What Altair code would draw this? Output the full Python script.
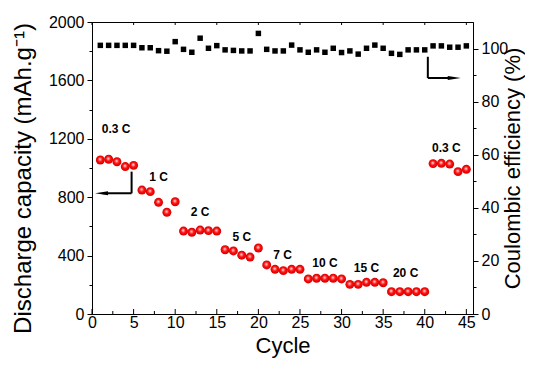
import altair as alt
import pandas as pd

# ---------------- data ----------------
cycles = list(range(1, 46))
capacity = [1055, 1060, 1043, 1010, 1018,
            849, 838, 765, 697, 769,
            568, 560, 575, 571, 568,
            440, 432, 403, 390, 452,
            336, 306, 297, 306, 306,
            240, 245, 245, 245, 240,
            203, 203, 217, 217, 214,
            153, 153, 153, 153, 153,
            1030, 1032, 1027, 975, 991]
efficiency = [101.2, 101.2, 101.2, 101.2, 101.2,
              100.3, 100.3, 99.2, 99.0, 102.6,
              99.7, 98.6, 103.9, 100.1, 101.1,
              99.5, 99.3, 99.1, 99.1, 105.7,
              99.7, 99.1, 99.1, 101.3, 99.5,
              98.6, 99.5, 98.6, 100.1, 98.5,
              99.1, 97.9, 100.1, 101.3, 100.1,
              98.2, 97.8, 99.5, 99.5, 99.5,
              101.0, 101.0, 100.5, 100.5, 101.0]

rate_labels = ["0.3 C", "1 C", "2 C", "5 C", "7 C", "10 C", "15 C", "20 C", "0.3 C"]
rate_x = [2.9, 8.0, 13.0, 18.0, 22.9, 28.0, 33.0, 37.7, 42.6]
rate_y = [1267, 938, 699, 527, 404, 349, 315, 281, 1137]

# x-axis tick values (major every 5 cycles, minor in between)
major_ticks = [0, 5, 10, 15, 20, 25, 30, 35, 40, 45]
minor_ticks = [2.5, 7.5, 12.5, 17.5, 22.5, 27.5, 32.5, 37.5, 42.5]

# arrow pointing to the left axis (capacity scale)
larrow_x = [4.76, 4.76]
larrow_x2 = [4.76, 1.3]
larrow_y = [975, 827]
larrow_y2 = [827, 827]
lhead_x = [1.15]
lhead_y = [827]

# arrow pointing to the right axis (efficiency scale)
rarrow_x = [40.37, 40.37]
rarrow_x2 = [40.37, 43.2]
rarrow_y = [96.9, 88.9]
rarrow_y2 = [88.9, 88.9]
rhead_x = [43.55]
rhead_y = [88.9]

# ---------------- tables ----------------
df_cap = pd.DataFrame({"x": cycles, "y": capacity})
df_ce = pd.DataFrame({"x": cycles, "y": efficiency})
df_txt = pd.DataFrame({"x": rate_x, "y": rate_y, "label": rate_labels})
df_lr = pd.DataFrame({"x": larrow_x, "x2": larrow_x2, "y": larrow_y, "y2": larrow_y2})
df_lh = pd.DataFrame({"x": lhead_x, "y": lhead_y})
df_rr = pd.DataFrame({"x": rarrow_x, "x2": rarrow_x2, "y": rarrow_y, "y2": rarrow_y2})
df_rh = pd.DataFrame({"x": rhead_x, "y": rhead_y})
df_major = pd.DataFrame({"x": major_ticks})
df_minor = pd.DataFrame({"x": minor_ticks})

FONT = "Liberation Sans"

xscale = alt.Scale(domain=[0, 45.8], nice=False, zero=False)
yLscale = alt.Scale(domain=[0, 2000], nice=False)
yRscale = alt.Scale(domain=[0, 110], nice=False)

xaxis = alt.Axis(
    title="Cycle", values=major_ticks, format="d", ticks=False,
    labelFlush=False, labelPadding=0, titlePadding=5, titleFontSize=22,
)
yLaxis = alt.Axis(
    title="Discharge capacity (mAh.g⁻¹)", orient="left", format="d",
    values=list(range(0, 2001, 200)),
    labelExpr="datum.value % 400 === 0 ? datum.label : ''",
    tickSize={"condition": {"test": "datum.value % 400 === 0", "value": 5}, "value": 3},
    labelPadding=3, titlePadding=13, labelFlush=False, titleFontSize=24,
    titleY=156,
)
yRaxis = alt.Axis(
    title="Coulombic efficiency (%)", orient="right", format="d",
    values=list(range(0, 101, 10)),
    labelExpr="datum.value % 20 === 0 ? datum.label : ''",
    tickSize={"condition": {"test": "datum.value % 20 === 0", "value": 5}, "value": 3},
    labelPadding=3, titlePadding=-5, labelFlush=False,
    titleAngle=270, titleBaseline="top", titleFontSize=22,
)

X = alt.X("x:Q", scale=xscale, axis=xaxis)
YL = alt.Y("y:Q", scale=yLscale, axis=yLaxis)
YR = alt.Y("y:Q", scale=yRscale, axis=yRaxis)

sphere = alt.RadialGradient(
    gradient="radial", x1=0.45, y1=0.4, r1=0.0, x2=0.5, y2=0.5, r2=0.55,
    stops=[
        alt.GradientStop(offset=0.0, color="#ffffff"),
        alt.GradientStop(offset=0.18, color="#ff9a9a"),
        alt.GradientStop(offset=0.45, color="#ff1010"),
        alt.GradientStop(offset=0.85, color="#e00000"),
        alt.GradientStop(offset=1.0, color="#b00000"),
    ],
)

circles = alt.Chart(df_cap).mark_circle(size=80, fill=sphere, opacity=1).encode(x=X, y=YL)
texts = alt.Chart(df_txt).mark_text(font=FONT, fontSize=12, fontWeight="bold", color="black").encode(
    x=X, y=YL, text="label:N")
lrules = alt.Chart(df_lr).mark_rule(color="black", strokeWidth=2).encode(
    x=X, x2="x2:Q", y=YL, y2="y2:Q")
lhead = alt.Chart(df_lh).mark_point(
    shape="M -1 0 L 1 -0.32 L 1 0.32 Z", filled=True, color="black", size=170, opacity=1
).encode(x=X, y=YL)

# inward x ticks (bottom major / minor, top major)
bot_major = alt.Chart(df_major).mark_rule(color="black", strokeWidth=1).encode(
    x=X, y=alt.value(292), y2=alt.value(287))
bot_minor = alt.Chart(df_minor).mark_rule(color="black", strokeWidth=1).encode(
    x=X, y=alt.value(292), y2=alt.value(289))
top_major = alt.Chart(df_major).mark_rule(color="black", strokeWidth=1).encode(
    x=X, y=alt.value(0), y2=alt.value(3))

squares = alt.Chart(df_ce).mark_square(size=30, color="black", opacity=1).encode(x=X, y=YR)
rrules = alt.Chart(df_rr).mark_rule(color="black", strokeWidth=2).encode(
    x=X, x2="x2:Q", y=YR, y2="y2:Q")
rhead = alt.Chart(df_rh).mark_point(
    shape="M 1 0 L -1 -0.32 L -1 0.32 Z", filled=True, color="black", size=170, opacity=1
).encode(x=X, y=YR)

left = alt.layer(circles, texts, lrules, lhead, bot_major, bot_minor, top_major)
right = alt.layer(squares, rrules, rhead)

chart = alt.layer(left, right).resolve_scale(y="independent").properties(
    width=381, height=292,
    autosize=alt.AutoSizeParams(type="none"),
    padding={"left": 84, "top": 14, "right": 52, "bottom": 47},
).configure_axis(
    labelFont=FONT, titleFont=FONT, labelFontSize=16,
    titleFontWeight="normal", labelColor="black", titleColor="black",
    domainColor="black", tickColor="black", grid=False,
).configure_view(stroke="black", strokeWidth=1)

chart.save("out.html", embed_options={"renderer": "svg", "actions": False})
